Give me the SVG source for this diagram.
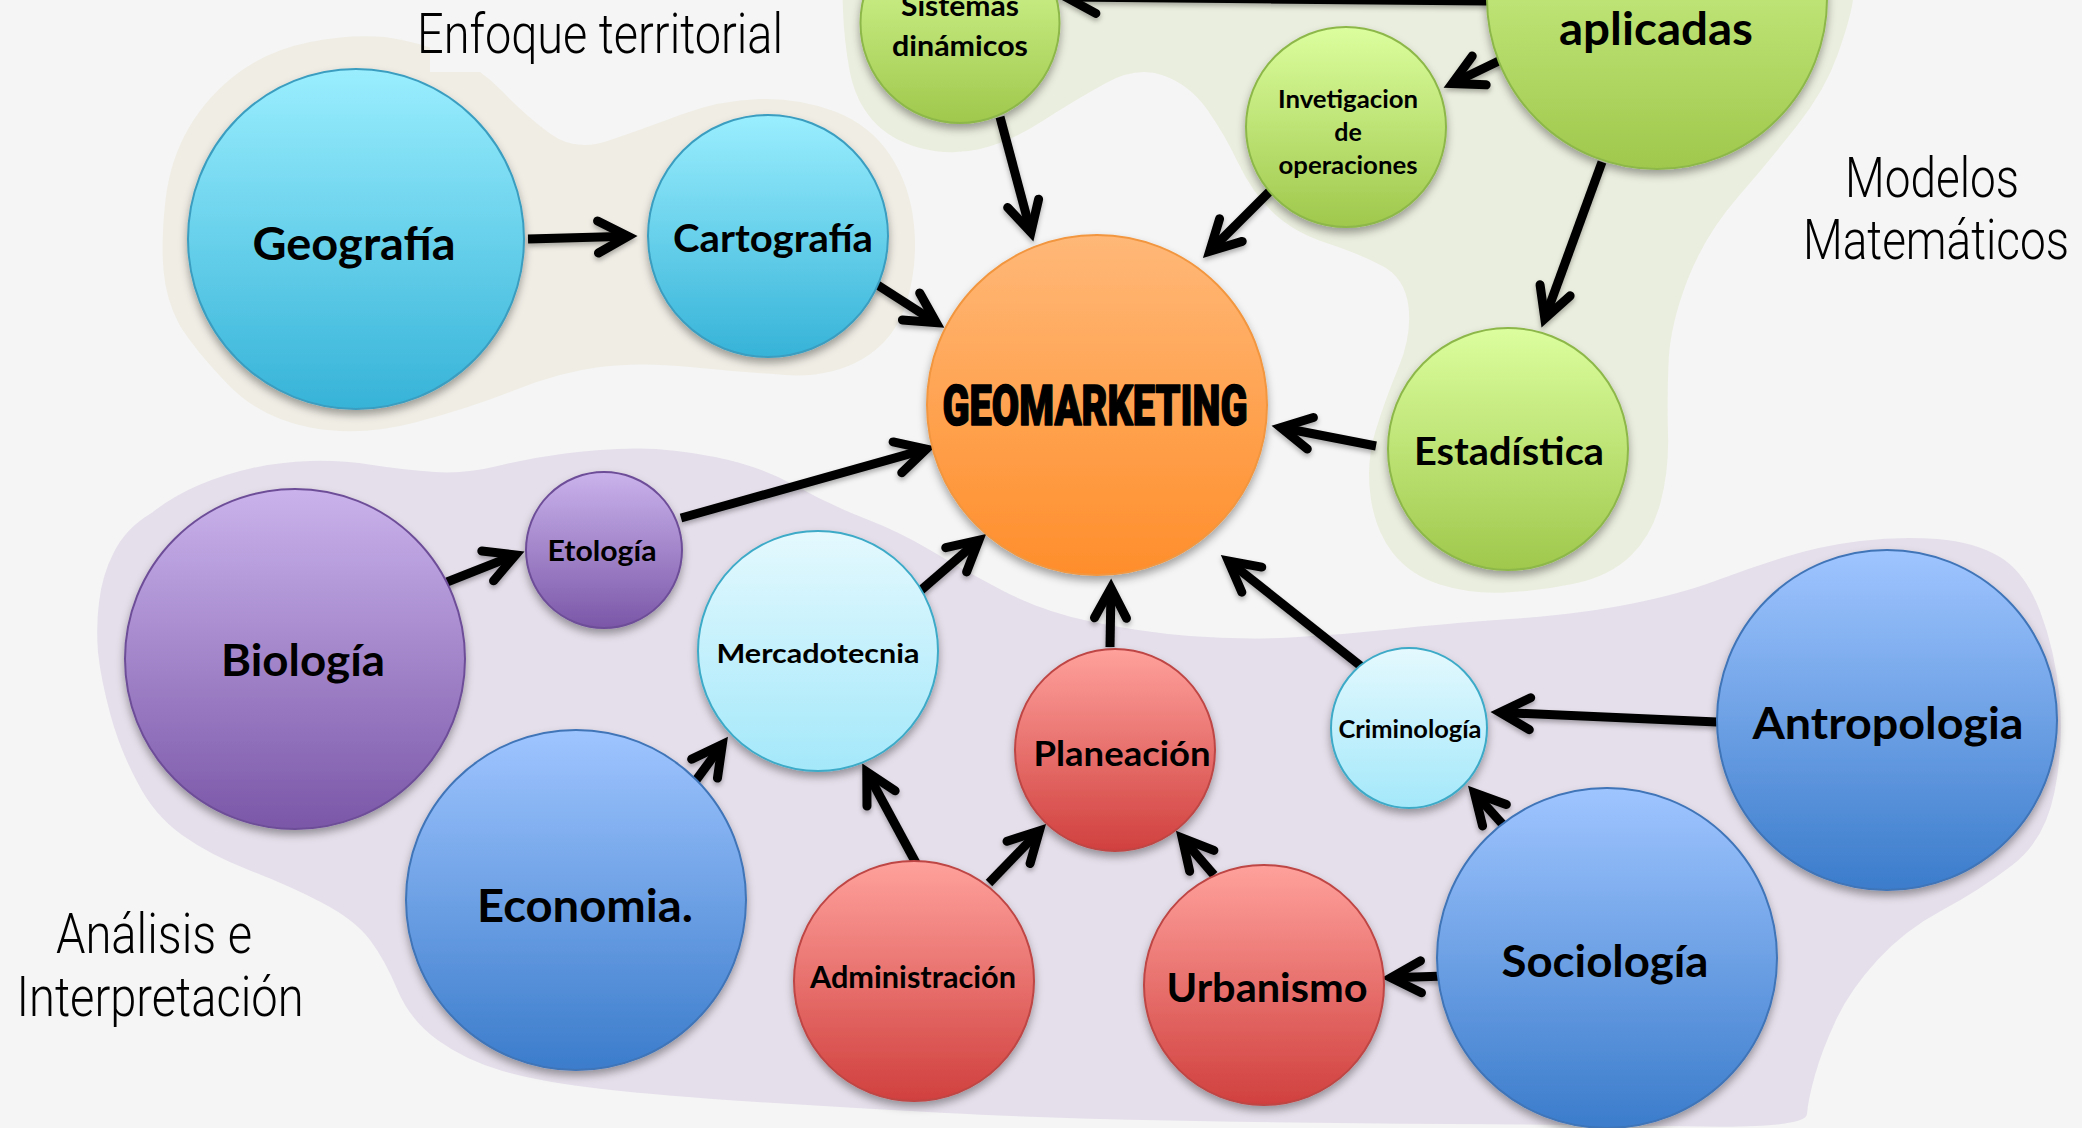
<svg xmlns="http://www.w3.org/2000/svg" width="2082" height="1128" viewBox="0 0 2082 1128">
<defs>
<style>
.t{font-family:Lato,"Open Sans","Liberation Sans",sans-serif;font-weight:700;fill:#000;text-anchor:middle}
.r{font-family:Roboto,"Open Sans","Liberation Sans",sans-serif;font-weight:300;font-size:56px;fill:#000;text-anchor:middle}
.c{fill:none;stroke:#000;stroke-width:9;stroke-linecap:butt}
.sh{filter:url(#sh)}
</style>
<linearGradient id="gCyan" x1="0" y1="0" x2="0" y2="1"><stop offset="0" stop-color="#9AEEFE"/><stop offset="1" stop-color="#36B3D8"/></linearGradient>
<linearGradient id="gOrange" x1="0" y1="0" x2="0" y2="1"><stop offset="0" stop-color="#FFB878"/><stop offset="1" stop-color="#FF8E2B"/></linearGradient>
<linearGradient id="gGreen" x1="0" y1="0" x2="0" y2="1"><stop offset="0" stop-color="#DCFE9E"/><stop offset="1" stop-color="#9FC84C"/></linearGradient>
<linearGradient id="gPurple" x1="0" y1="0" x2="0" y2="1"><stop offset="0" stop-color="#CAB3EC"/><stop offset="1" stop-color="#7B57A8"/></linearGradient>
<linearGradient id="gLight" x1="0" y1="0" x2="0" y2="1"><stop offset="0" stop-color="#E4F9FE"/><stop offset="1" stop-color="#A4E8FA"/></linearGradient>
<linearGradient id="gBlue" x1="0" y1="0" x2="0" y2="1"><stop offset="0" stop-color="#9FC5FF"/><stop offset="1" stop-color="#3B7CCB"/></linearGradient>
<linearGradient id="gRed" x1="0" y1="0" x2="0" y2="1"><stop offset="0" stop-color="#FFA19C"/><stop offset="1" stop-color="#D0403E"/></linearGradient>
<filter id="sh" x="-20%" y="-20%" width="140%" height="150%"><feDropShadow dx="0" dy="5" stdDeviation="4" flood-color="#000" flood-opacity="0.35"/></filter>
<filter id="csh" x="-20%" y="-20%" width="140%" height="140%"><feDropShadow dx="0" dy="3" stdDeviation="2.5" flood-color="#000" flood-opacity="0.3"/></filter>
<marker id="ah" markerUnits="userSpaceOnUse" viewBox="-40 -25 50 50" refX="0" refY="0" markerWidth="50" markerHeight="50" orient="auto">
<path d="M-30,-16 L0,0 L-30,16" fill="none" stroke="#000" stroke-width="9" stroke-linecap="round" stroke-linejoin="miter"/>
</marker>
</defs>
<rect x="0" y="0" width="2082" height="1128" fill="#F5F5F5"/>
<g id="regions">
<path id="region-territorial" fill="#EFEDE4" d="M163.5,270 Q161,240 165.5,200 Q170,160 189,127.5 Q208,95 240,71.5 Q270,50 310,42 Q350,34 385,37 Q420,42 450,55 Q480,68 502.5,91.5 Q525,115 550,133.5 Q575,152 607.5,141 Q640,130 680,115 Q720,100 760,99 Q800,98 835,111.5 Q870,125 890,155 Q910,185 914,225 Q918,265 906.5,302.5 Q895,340 862.5,359 Q830,378 785,375 Q740,372 690,367 Q640,362 600,367 Q560,372 515,390 Q470,408 415,422.5 Q360,437 310,427.5 Q260,418 227.5,384 Q195,350 179.5,325 Q166,300 163.5,270 Z"/>
<path id="region-modelos" fill="#EAEEDE" d="M842,-20 L843,10 Q844,40 849.5,70 Q855,100 872.5,120 Q890,140 920,148 Q950,156 980,149 Q1010,142 1042.5,121 Q1075,100 1106,83 Q1137,66 1163.5,75.5 Q1190,85 1207.5,110 Q1225,135 1238.5,163.5 Q1252,192 1272.5,212 Q1293,232 1326.5,243 Q1360,254 1382.5,266 Q1405,278 1408.5,306.5 Q1412,335 1398.5,367.5 Q1385,400 1375.5,431 Q1366,462 1370.5,496 Q1375,530 1392.5,552.5 Q1410,575 1440,584.5 Q1470,594 1505,592.5 Q1540,591 1575,583.5 Q1610,576 1631,555.5 Q1652,535 1660.5,502.5 Q1669,470 1668,435 Q1667,400 1668.5,362.5 Q1670,325 1687.5,280 Q1705,235 1737.5,197.5 Q1770,160 1797.5,125 Q1825,90 1837.5,55 Q1850,20 1853,0 L1856,-20 Z"/>
<path id="region-analisis" fill="#E5DFEB" d="M99,602.5 Q102,575 114,552 Q126,528 151.5,513 Q173,496 199,485 Q225,474 252.5,468 Q280,462 310,461 Q340,460 372.5,465 Q405,470 435,472 Q465,474 497.5,466 Q530,458 565,453.5 Q600,449 635,448.5 Q670,448 715,457 Q760,466 795,485.5 Q830,505 865,518.5 Q900,532 930,550 Q960,568 1000.5,589.5 Q1041,611 1090.5,621.5 Q1140,632 1190,636 Q1240,640 1290,637.5 Q1340,635 1390,629.5 Q1440,624 1510,619 Q1580,614 1630,604 Q1680,594 1715,581 Q1750,568 1785,557 Q1820,546 1860,541 Q1900,536 1937.5,539 Q1975,542 2000,557 Q2025,572 2040,611 Q2055,650 2059.5,697 Q2064,744 2054.5,792 Q2045,840 2012.5,865 Q1980,890 1942.5,910 Q1905,930 1877.5,960 Q1850,990 1836,1020 Q1822,1050 1815,1075 Q1808,1100 1807,1114 Q1806,1128 1703,1126.5 Q1600,1125 1450,1124 Q1300,1123 1170.5,1120.5 Q1041,1118 945.5,1113 Q850,1108 757,1102 Q664,1096 602,1089 Q540,1082 502.5,1071 Q465,1060 437.5,1040 Q410,1020 397.5,990 Q385,960 370,940 Q355,920 322.5,903 Q290,886 250,870.5 Q210,855 182,835 Q154,815 137.5,782.5 Q120,750 110.5,715 Q101,680 98,652.5 Q96,625 99,602.5 Z"/>
</g>
<g id="labels">
<rect x="430" y="0" width="370" height="72" fill="#F5F5F5"/>
<text class="r" x="600" y="53" textLength="366" lengthAdjust="spacingAndGlyphs">Enfoque territorial</text>
<text class="r" x="1932" y="197" textLength="174" lengthAdjust="spacingAndGlyphs">Modelos</text>
<text class="r" x="1936" y="259" textLength="266" lengthAdjust="spacingAndGlyphs">Matemáticos</text>
<text class="r" x="154" y="953" textLength="196" lengthAdjust="spacingAndGlyphs">Análisis e</text>
<text class="r" x="160" y="1016" textLength="287" lengthAdjust="spacingAndGlyphs">Interpretación</text>
</g>
<g id="connectors" filter="url(#csh)">
<line class="c" x1="528" y1="239" x2="628" y2="236.2" marker-end="url(#ah)"/>
<line class="c" x1="876" y1="284" x2="936.3" y2="322.7" marker-end="url(#ah)"/>
<line class="c" x1="1000" y1="117" x2="1030.9" y2="232.3" marker-end="url(#ah)"/>
<line class="c" x1="1270" y1="191" x2="1209.7" y2="251.3" marker-end="url(#ah)"/>
<line class="c" x1="1507" y1="57" x2="1452.2" y2="83.5" marker-end="url(#ah)"/>
<line class="c" x1="1488" y1="1" x2="1066" y2="-2.9" marker-end="url(#ah)"/>
<line class="c" x1="1602" y1="162" x2="1544.8" y2="318.5" marker-end="url(#ah)"/>
<line class="c" x1="1376" y1="446" x2="1280.9" y2="427.5" marker-end="url(#ah)"/>
<line class="c" x1="447" y1="582" x2="515.6" y2="554.9" marker-end="url(#ah)"/>
<line class="c" x1="681" y1="518" x2="926.3" y2="449.2" marker-end="url(#ah)"/>
<line class="c" x1="920" y1="591" x2="978.9" y2="540.2" marker-end="url(#ah)"/>
<line class="c" x1="694" y1="783" x2="722.3" y2="744.4" marker-end="url(#ah)"/>
<line class="c" x1="916" y1="863" x2="866.8" y2="772" marker-end="url(#ah)"/>
<line class="c" x1="989" y1="883" x2="1039.4" y2="830.8" marker-end="url(#ah)"/>
<line class="c" x1="1110" y1="647" x2="1111" y2="588" marker-end="url(#ah)"/>
<line class="c" x1="1214" y1="875" x2="1182.2" y2="838.1" marker-end="url(#ah)"/>
<line class="c" x1="1446" y1="976" x2="1391" y2="977.7" marker-end="url(#ah)"/>
<line class="c" x1="1506" y1="828" x2="1474.4" y2="792.9" marker-end="url(#ah)"/>
<line class="c" x1="1717" y1="722" x2="1500" y2="712.4" marker-end="url(#ah)"/>
<line class="c" x1="1362" y1="667" x2="1228.3" y2="561" marker-end="url(#ah)"/>
</g>
<g id="n-sistemas"><ellipse class="sh" cx="960" cy="23" rx="99.5" ry="100" fill="url(#gGreen)" stroke="#8DB84A" stroke-width="2"/>
<text class="t" x="960" y="16" font-size="29" textLength="118" lengthAdjust="spacingAndGlyphs">Sistemas</text>
<text class="t" x="960" y="56" font-size="29" textLength="136" lengthAdjust="spacingAndGlyphs">dinámicos</text></g>
<g id="n-aplicadas"><ellipse class="sh" cx="1657" cy="-1" rx="170" ry="170" fill="url(#gGreen)" stroke="#8DB84A" stroke-width="2"/>
<text class="t" x="1656" y="45" font-size="45" textLength="194" lengthAdjust="spacingAndGlyphs">aplicadas</text></g>
<g id="n-investigacion"><ellipse class="sh" cx="1346" cy="127" rx="100" ry="100" fill="url(#gGreen)" stroke="#8DB84A" stroke-width="2"/>
<text class="t" x="1348" y="108" font-size="25" textLength="140" lengthAdjust="spacingAndGlyphs">Invetigacion</text>
<text class="t" x="1348" y="141" font-size="25">de</text>
<text class="t" x="1348" y="174" font-size="25" textLength="139" lengthAdjust="spacingAndGlyphs">operaciones</text></g>
<g id="n-geografia"><ellipse class="sh" cx="356" cy="239" rx="168" ry="170" fill="url(#gCyan)" stroke="#3A9EC0" stroke-width="2"/>
<text class="t" x="354" y="260" font-size="45" textLength="203" lengthAdjust="spacingAndGlyphs">Geografía</text></g>
<g id="n-cartografia"><ellipse class="sh" cx="768" cy="236" rx="120" ry="121" fill="url(#gCyan)" stroke="#3A9EC0" stroke-width="2"/>
<text class="t" x="773" y="252" font-size="39" textLength="200" lengthAdjust="spacingAndGlyphs">Cartografía</text></g>
<g id="n-geomarketing"><ellipse class="sh" cx="1097" cy="405" rx="170" ry="170" fill="url(#gOrange)" stroke="#F2963F" stroke-width="2"/>
<text x="1095" y="425" font-family="Roboto,Lato,'Liberation Sans',sans-serif" font-weight="900" font-size="56" fill="#000" stroke="#000" stroke-width="1.5" stroke-linejoin="round" text-anchor="middle" textLength="305" lengthAdjust="spacingAndGlyphs">GEOMARKETING</text></g>
<g id="n-estadistica"><ellipse class="sh" cx="1508" cy="449" rx="120" ry="121" fill="url(#gGreen)" stroke="#8DB84A" stroke-width="2"/>
<text class="t" x="1509" y="465" font-size="39" textLength="190" lengthAdjust="spacingAndGlyphs">Estadística</text></g>
<g id="n-etologia"><ellipse class="sh" cx="604" cy="550" rx="78" ry="78" fill="url(#gPurple)" stroke="#6E4E98" stroke-width="2"/>
<text class="t" x="602" y="561" font-size="29" textLength="109" lengthAdjust="spacingAndGlyphs">Etología</text></g>
<g id="n-biologia"><ellipse class="sh" cx="295" cy="659" rx="170" ry="170" fill="url(#gPurple)" stroke="#6E4E98" stroke-width="2"/>
<text class="t" x="303" y="676" font-size="44" textLength="164" lengthAdjust="spacingAndGlyphs">Biología</text></g>
<g id="n-mercadotecnia"><ellipse class="sh" cx="818" cy="651" rx="120" ry="120" fill="url(#gLight)" stroke="#3DAAC8" stroke-width="2"/>
<text class="t" x="818" y="663" font-size="27.5" textLength="203" lengthAdjust="spacingAndGlyphs">Mercadotecnia</text></g>
<g id="n-criminologia"><ellipse class="sh" cx="1409" cy="728" rx="78" ry="80" fill="url(#gLight)" stroke="#3DAAC8" stroke-width="2"/>
<text class="t" x="1410" y="738" font-size="25.5" textLength="143" lengthAdjust="spacingAndGlyphs">Criminología</text></g>
<g id="n-antropologia"><ellipse class="sh" cx="1887" cy="720" rx="170" ry="170" fill="url(#gBlue)" stroke="#3F74B8" stroke-width="2"/>
<text class="t" x="1888" y="739" font-size="44.5" textLength="271" lengthAdjust="spacingAndGlyphs">Antropologia</text></g>
<g id="n-planeacion"><ellipse class="sh" cx="1115" cy="750" rx="100" ry="101" fill="url(#gRed)" stroke="#BE4644" stroke-width="2"/>
<text class="t" x="1122" y="766" font-size="35" textLength="177" lengthAdjust="spacingAndGlyphs">Planeación</text></g>
<g id="n-economia"><ellipse class="sh" cx="576" cy="900" rx="170" ry="170" fill="url(#gBlue)" stroke="#3F74B8" stroke-width="2"/>
<text class="t" x="585" y="922" font-size="45" textLength="216" lengthAdjust="spacingAndGlyphs">Economia.</text></g>
<g id="n-administracion"><ellipse class="sh" cx="914" cy="981" rx="120" ry="120" fill="url(#gRed)" stroke="#BE4644" stroke-width="2"/>
<text class="t" x="913" y="988" font-size="29.5" textLength="206" lengthAdjust="spacingAndGlyphs">Administración</text></g>
<g id="n-urbanismo"><ellipse class="sh" cx="1264" cy="985" rx="120" ry="120" fill="url(#gRed)" stroke="#BE4644" stroke-width="2"/>
<text class="t" x="1267" y="1002" font-size="39.5" textLength="201" lengthAdjust="spacingAndGlyphs">Urbanismo</text></g>
<g id="n-sociologia"><ellipse class="sh" cx="1607" cy="958" rx="170" ry="170" fill="url(#gBlue)" stroke="#3F74B8" stroke-width="2"/>
<text class="t" x="1605" y="977" font-size="44" textLength="207" lengthAdjust="spacingAndGlyphs">Sociología</text></g>
</svg>
